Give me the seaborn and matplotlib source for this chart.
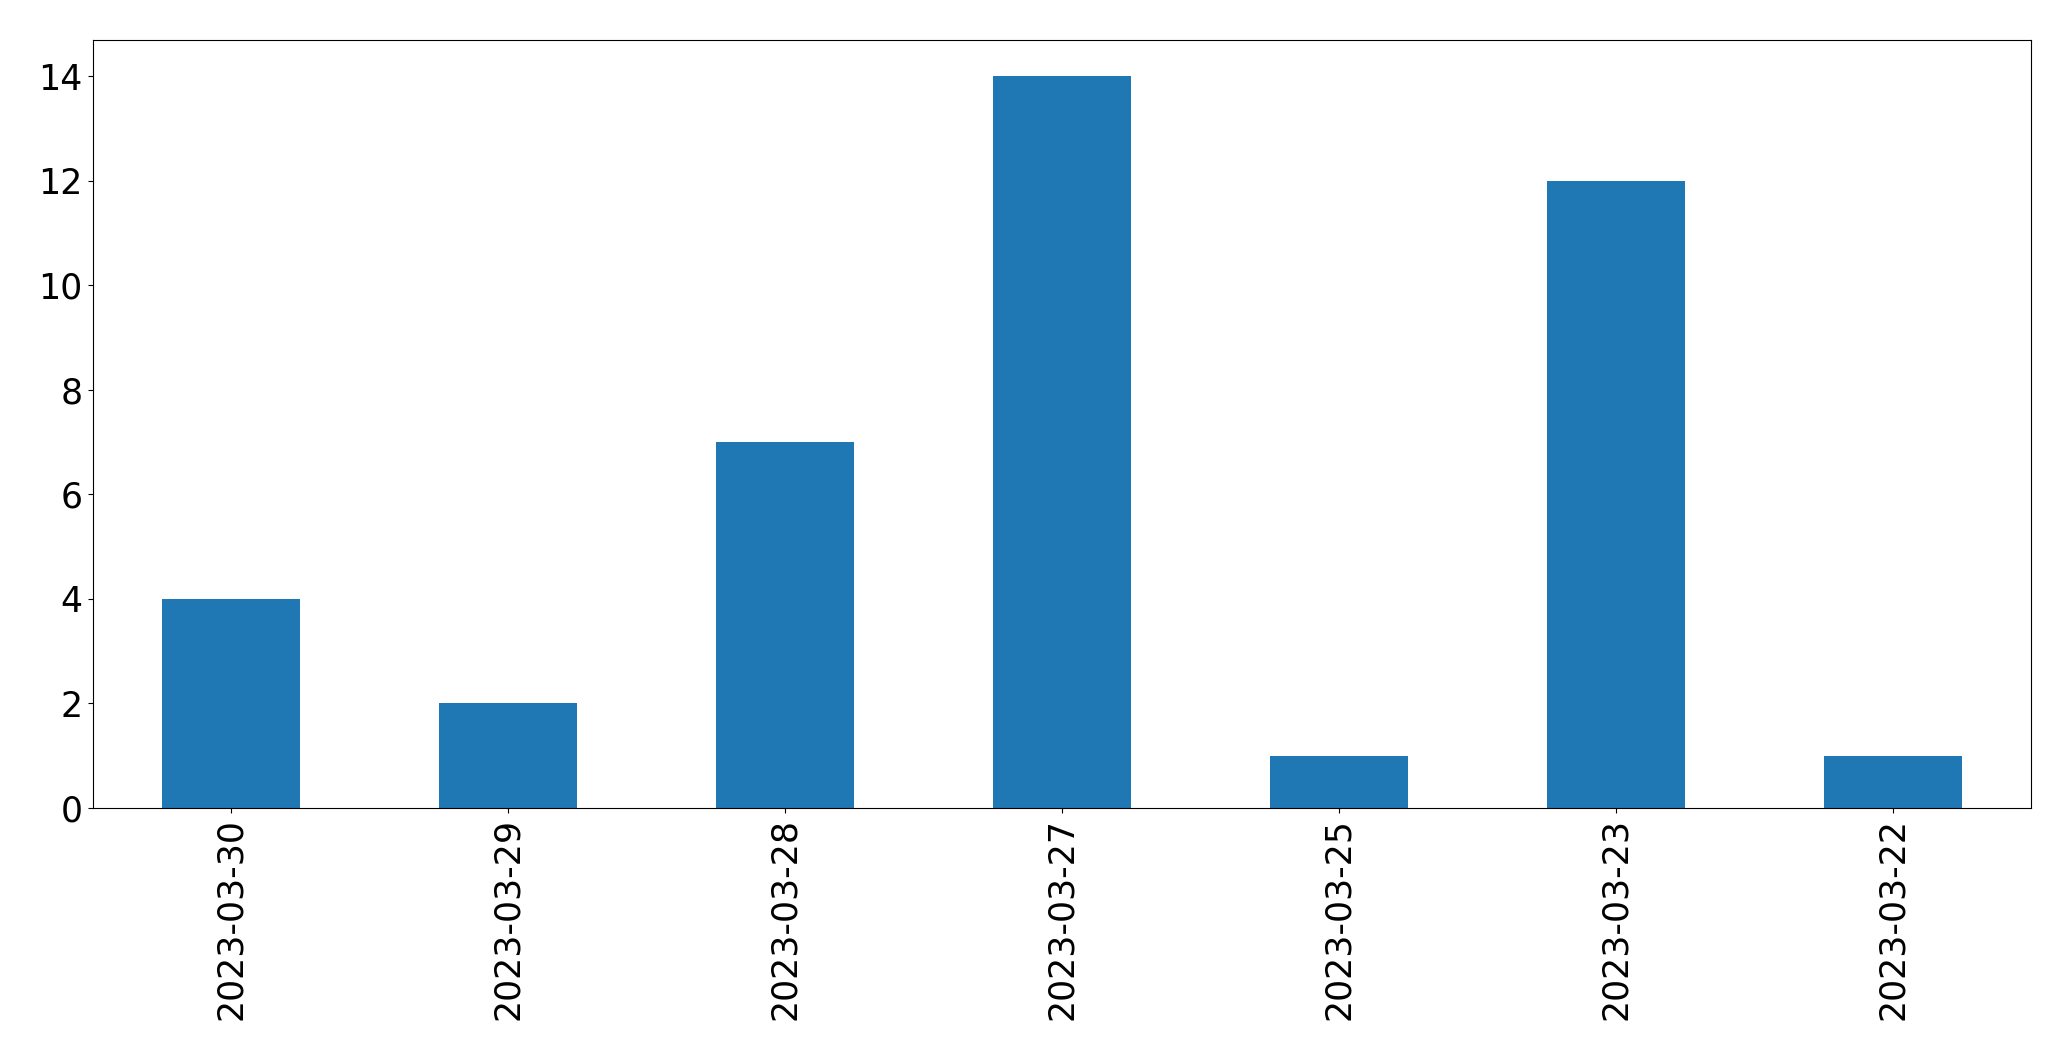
import pandas as pd
import matplotlib
matplotlib.use("Agg")
import matplotlib.pyplot as plt
import seaborn as sns

# -----------------------------
# DATA
# -----------------------------
dates = ["2023-03-30", "2023-03-29", "2023-03-28", "2023-03-27",
         "2023-03-25", "2023-03-23", "2023-03-22"]
counts = [4, 2, 7, 14, 1, 12, 1]

df = pd.DataFrame({"date": dates, "count": counts})

# -----------------------------
# PLOT
# -----------------------------
fig, ax = plt.subplots(figsize=(20.71, 10.61), dpi=100)
fig.subplots_adjust(left=0.0447, right=0.9808, top=0.9627, bottom=0.2385)

sns.barplot(data=df, x="date", y="count", order=dates, color="#1f77b4",
            saturation=1, width=0.5, ax=ax)

ax.set_xlabel("")
ax.set_ylabel("")
ax.set_xlim(-0.5, len(dates) - 0.5)
ax.set_ylim(0, 14.7)
ax.set_yticks(range(0, 15, 2))
ax.tick_params(axis="both", labelsize=25)
ax.tick_params(axis="x", labelrotation=90)

plt.savefig("out.png", dpi=100)
